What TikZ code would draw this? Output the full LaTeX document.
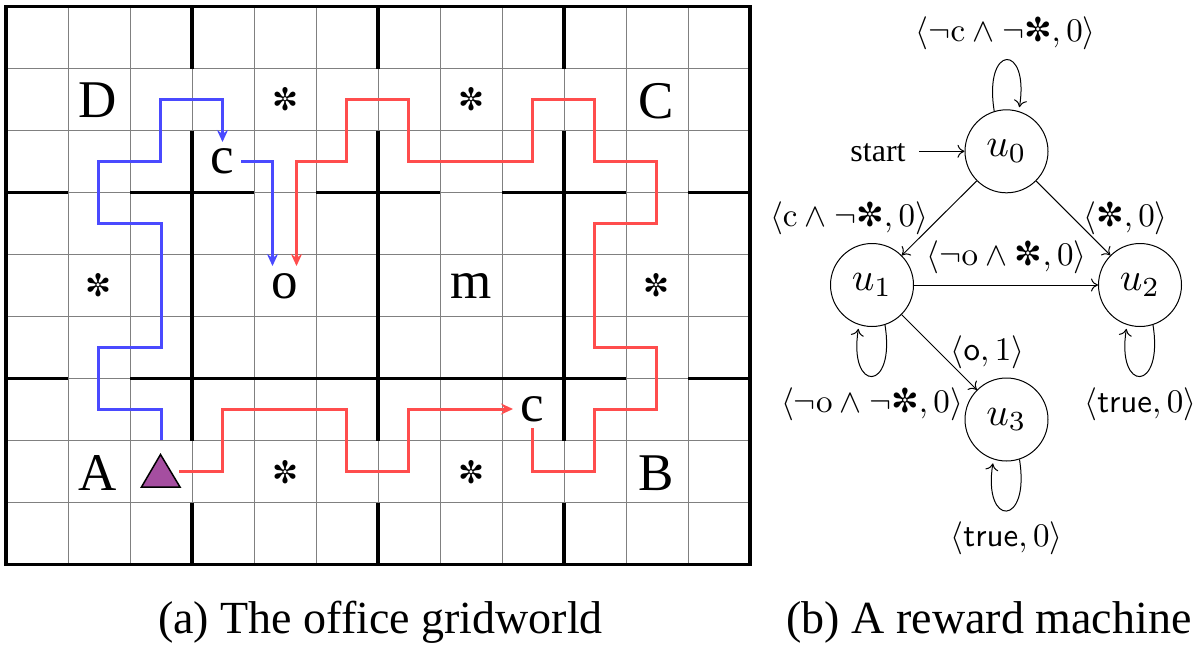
\documentclass[tikz,border=0pt]{standalone}
\usepackage[no-math]{fontspec}
\usepackage{graphicx}
\setmainfont{Liberation Serif}
\newfontfamily\starfont{DejaVu Sans}
\usetikzlibrary{arrows.meta}
\newcommand{\sz}[1]{\fontsize{#1}{#1}\selectfont}
\newcommand{\mstar}{\mbox{\starfont ✼}}
\newcommand{\lbl}[1]{\scalebox{3.3}{$#1$}}
\newcommand{\stt}[1]{\scalebox{3.95}{$#1$}}
\tikzset{
  x=1pt,y=-1pt,
  wall/.style={line width=3.4pt,black,line cap=butt},
  frame/.style={line width=3.8pt,black,line join=miter},
  gridline/.style={line width=1pt,black!50},
  bluepath/.style={line width=3pt,pathblue,line join=miter,-{Stealth[length=12pt,width=11pt,inset=4pt]}},
  redpath/.style={line width=3pt,pathred,line join=miter,-{Stealth[length=12pt,width=11pt,inset=4pt]}},
  letter/.style={anchor=base,inner sep=0pt,font=\sz{53}},
  gridstar/.style={inner sep=0pt,font=\sz{31}\starfont},
  state/.style={circle,draw,line width=1pt,minimum size=83pt,inner sep=0pt},
  edgeline/.style={line width=1pt,-{Computer Modern Rightarrow[length=7pt,width=13pt]}},
  loopline/.style={edgeline,shorten >=4pt},
  lab/.style={inner sep=0pt},
  caption/.style={anchor=base,inner sep=0pt,font=\sz{46}}
}
\definecolor{pathblue}{HTML}{4A4AFF}
\definecolor{pathred}{HTML}{FF4D4D}
\definecolor{agent}{HTML}{A54EA0}
\begin{document}
\begin{tikzpicture}
\useasboundingbox (0,0) rectangle (1200,646);
\fill[white] (0,0) rectangle (1200,646);
% fine grid
\foreach \k in {1,...,11}{\draw[gridline] ({6+62*\k},6.5) -- ({6+62*\k},564.5);}
\foreach \k in {1,...,8}{\draw[gridline] (6,{6.5+62*\k}) -- (750,{6.5+62*\k});}
% walls
\foreach \xx in {192,378,564}{
  \draw[wall] (\xx,6.5) -- (\xx,68.5);
  \draw[wall] (\xx,130.5) -- (\xx,440.5);
  \draw[wall] (\xx,502.5) -- (\xx,564.5);
}
\foreach \aa/\bb in {6/68,130/254,316/440,502/626,688/750}{
  \draw[wall] (\aa,192.5) -- (\bb,192.5);
}
\foreach \aa/\bb in {6/68,130/626,688/750}{
  \draw[wall] (\aa,378.5) -- (\bb,378.5);
}
\draw[frame] (6,6.5) rectangle (750,564.5);
% paths
\draw[bluepath] (161,440) -- (161,409) -- (98.5,409) -- (98.5,347) -- (161,347) -- (161,223) -- (98.5,223) -- (98.5,161.5) -- (160.5,161.5) -- (160.5,99.5) -- (222.5,99.5) -- (222.5,142);
\draw[bluepath] (241,161.5) -- (272.5,161.5) -- (272.5,266);
\draw[redpath] (179,471.5) -- (222.5,471.5) -- (222.5,409) -- (346.5,409) -- (346.5,471.5) -- (408.5,471.5) -- (408.5,409) -- (513,409);
\draw[redpath] (532.5,428) -- (532.5,471.5) -- (594.5,471.5) -- (594.5,409) -- (656.5,409) -- (656.5,347) -- (594.5,347) -- (594.5,223) -- (656.5,223) -- (656.5,161.5) -- (594.5,161.5) -- (594.5,99.5) -- (532.5,99.5) -- (532.5,161.5) -- (408.5,161.5) -- (408.5,99.5) -- (346.5,99.5) -- (346.5,161.5) -- (296.5,161.5) -- (296.5,266);
% agent
\draw[line width=1.5pt,fill=agent,line join=miter] (141.5,487) -- (180,487) -- (160.5,454.5) -- cycle;
% letters
\node[letter] (D) at (98,117) {D};
\node[letter] (C) at (656.5,118) {C};
\node[letter] (A) at (98,490) {A};
\node[letter] (B) at (656,490) {B};
\node[letter] (c1) at (222.5,173) {c};
\node[letter] (c2) at (532.5,421.5) {c};
\node[letter] (o) at (284.5,298) {o};
\node[letter] (m) at (471,298) {m};
\node[gridstar] (s1) at (285,99.5) {✼};
\node[gridstar] (s2) at (471,99.5) {✼};
\node[gridstar] (s3) at (98.5,285.5) {✼};
\node[gridstar] (s4) at (656.5,285.5) {✼};
\node[gridstar] (s5) at (285,472) {✼};
\node[gridstar] (s6) at (471,472) {✼};
% reward machine
\node[state] (u0) at (1006.5,151.3) {\stt{u_0}};
\node[state] (u1) at (872,285) {\stt{u_1}};
\node[state] (u2) at (1140,285) {\stt{u_2}};
\node[state] (u3) at (1006.5,419.5) {\stt{u_3}};
\node[anchor=base,inner sep=0pt,font=\sz{32}] (start) at (878,161) {start};
\coordinate (startend) at (919,151.3);
\draw[edgeline] (startend) -- (u0);
\draw[edgeline] (u0) -- (u1);
\draw[edgeline] (u0) -- (u2);
\draw[edgeline] (u1) -- (u2);
\draw[edgeline] (u1) -- (u3);
\draw[loopline] (u0.107) .. controls +(-11,-68) and +(11,-68) .. (u0.73);
\draw[loopline] (u1.-72) .. controls +(11,68) and +(-11,68) .. (u1.-108);
\draw[loopline] (u2.-72) .. controls +(11,68) and +(-11,68) .. (u2.-108);
\draw[loopline] (u3.-72) .. controls +(11,68) and +(-11,68) .. (u3.-108);
\node[lab] (l0) at (1005.8,33) {\lbl{\langle\neg\mathrm{c}\wedge\neg\mstar,0\rangle}};
\node[lab] (l1) at (849,218) {\lbl{\langle\mathrm{c}\wedge\neg\mstar,0\rangle}};
\node[lab] (l2) at (1125.5,218) {\lbl{\langle\mstar,0\rangle}};
\node[lab] (l3) at (1006.7,257) {\lbl{\langle\neg\mathrm{o}\wedge\mstar,0\rangle}};
\node[lab] (l4) at (987.5,352) {\lbl{\langle\mathsf{o},1\rangle}};
\node[lab] (l5) at (872,404) {\lbl{\langle\neg\mathrm{o}\wedge\neg\mstar,0\rangle}};
\node[lab] (l6) at (1140.3,404) {\lbl{\langle\mathsf{true},0\rangle}};
\node[lab] (l7) at (1006.5,538) {\lbl{\langle\mathsf{true},0\rangle}};
% captions
\node[caption] (capa) at (380.5,633) {(a) The office gridworld};
\node[caption] (capb) at (989,633) {(b) A reward machine};
\end{tikzpicture}
\end{document}
